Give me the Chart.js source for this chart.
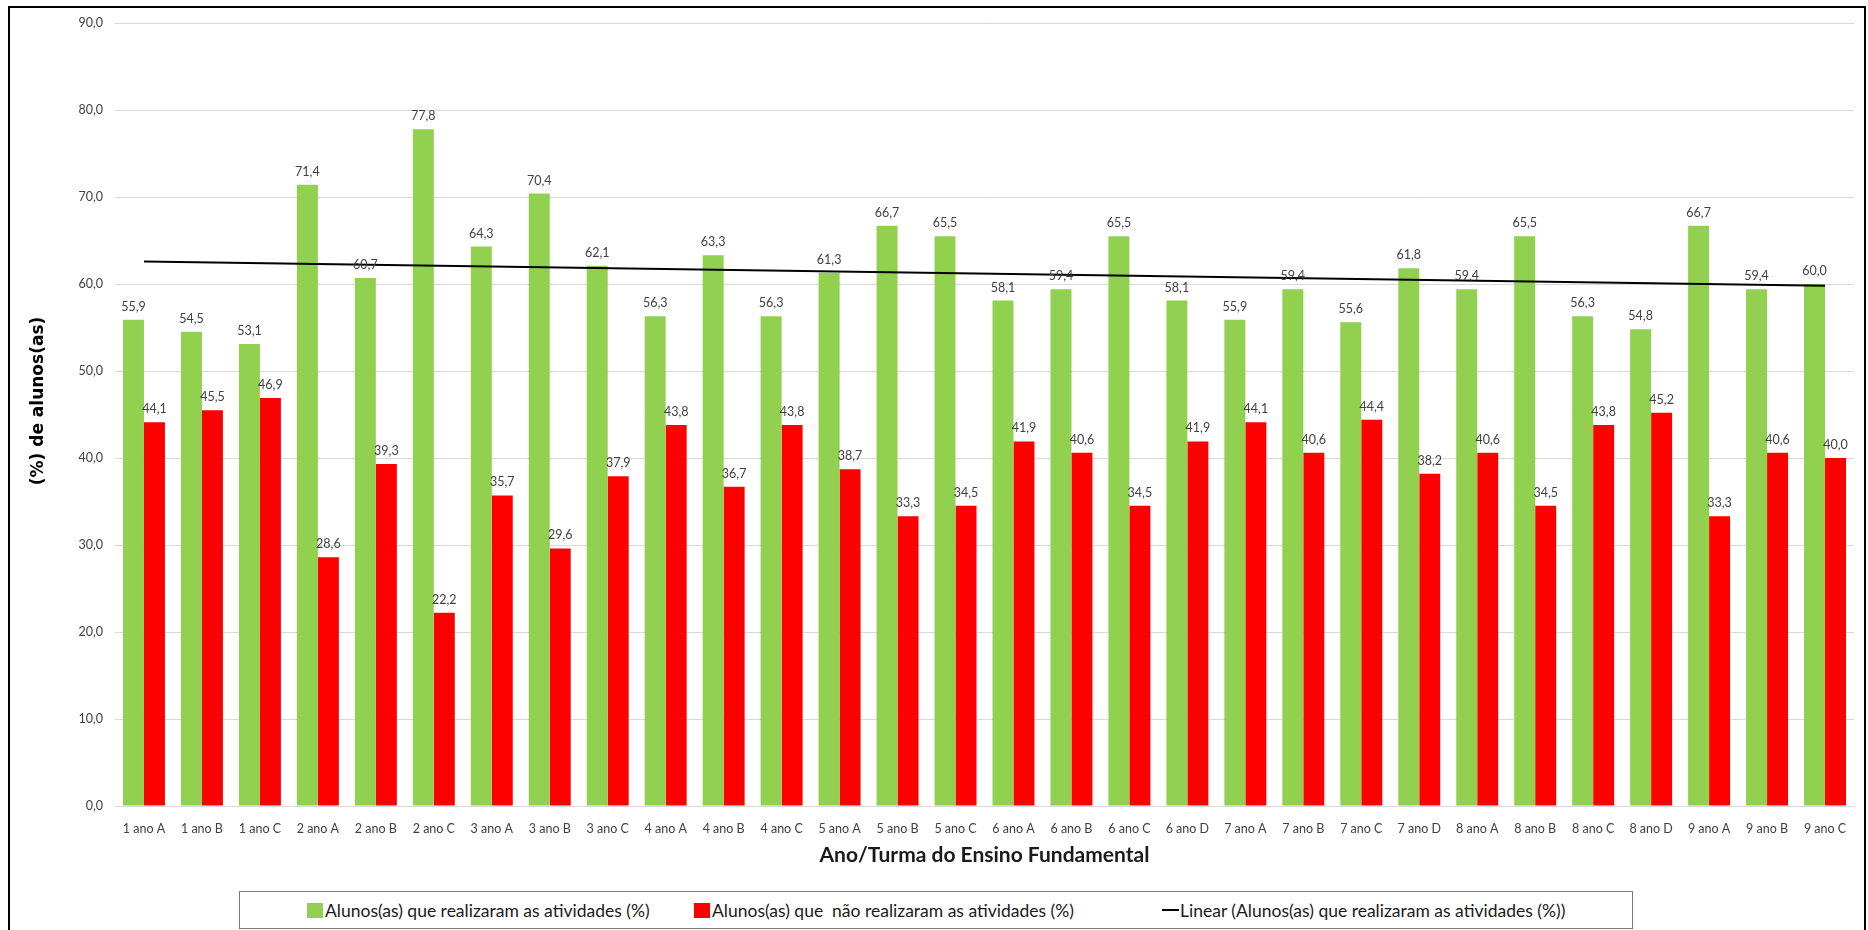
<!DOCTYPE html>
<html lang="pt-BR">
<head>
<meta charset="utf-8">
<title>Alunos(as) que realizaram as atividades por turma</title>
<script src="https://cdn.jsdelivr.net/npm/chart.js@4.4.1/dist/chart.umd.min.js"></script>
<style>
  html, body { margin: 0; padding: 0; background: #ffffff; }
  #wrap { position: relative; width: 1868px; height: 930px; overflow: hidden; }
  #chart { position: absolute; left: 0; top: 0; }
  #frame {
    position: absolute; left: 8px; top: 6px; width: 1854px; height: 940px;
    border: 2px solid #000; pointer-events: none;
  }
  #legend {
    position: absolute; left: 239px; top: 891px; width: 1392px; height: 36px;
    border: 1.5px solid #7a7a7a; background: #fff;
    font-family: Lato, "Open Sans", sans-serif;
    font-size: 17.5px; color: #1a1a1a;
  }
  .item { position: absolute; top: 0; height: 36px; display: flex; align-items: center; white-space: pre; }
  .swatch { display: inline-block; width: 16px; height: 15px; margin-right: 2px; }
  .dash { display: inline-block; width: 17px; height: 2px; background: #000; margin-right: 1px; }
</style>
</head>
<body>
<div id="wrap">
  <canvas id="chart" width="1868" height="930"></canvas>
  <div id="legend"></div>
  <div id="frame"></div>
</div>
<script>
// Classes (ano/turma) of the Ensino Fundamental
const categories = [
  '1 ano A', '1 ano B', '1 ano C',
  '2 ano A', '2 ano B', '2 ano C',
  '3 ano A', '3 ano B', '3 ano C',
  '4 ano A', '4 ano B', '4 ano C',
  '5 ano A', '5 ano B', '5 ano C',
  '6 ano A', '6 ano B', '6 ano C', '6 ano D',
  '7 ano A', '7 ano B', '7 ano C', '7 ano D',
  '8 ano A', '8 ano B', '8 ano C', '8 ano D',
  '9 ano A', '9 ano B', '9 ano C'
];

// Students who did the activities (%)
const realizaram = [
  55.9, 54.5, 53.1,
  71.4, 60.7, 77.8,
  64.3, 70.4, 62.1,
  56.3, 63.3, 56.3,
  61.3, 66.7, 65.5,
  58.1, 59.4, 65.5, 58.1,
  55.9, 59.4, 55.6, 61.8,
  59.4, 65.5, 56.3, 54.8,
  66.7, 59.4, 60.0
];

// Students who did not do the activities (%)
const naoRealizaram = [
  44.1, 45.5, 46.9,
  28.6, 39.3, 22.2,
  35.7, 29.6, 37.9,
  43.8, 36.7, 43.8,
  38.7, 33.3, 34.5,
  41.9, 40.6, 34.5, 41.9,
  44.1, 40.6, 44.4, 38.2,
  40.6, 34.5, 43.8, 45.2,
  33.3, 40.6, 40.0
];

// Linear trend of the first series: value at the first and last class
const tendencia = [62.6, 59.8];

// Value axis ticks
const yTicks = [0, 10, 20, 30, 40, 50, 60, 70, 80, 90];

const labelRealizaram = 'Alunos(as) que realizaram as atividades (%)';
const labelNao = 'Alunos(as) que  não realizaram as atividades (%)';
const labelTendencia = 'Linear (Alunos(as) que realizaram as atividades (%))';

const GREEN = '#92d050';
const RED = '#ff0000';
const FONT = 'Lato, "Open Sans", sans-serif';

const fmt = v => v.toFixed(1).replace('.', ',');

// Value labels above each bar
const barValueLabels = {
  id: 'barValueLabels',
  afterDatasetsDraw(chart) {
    const ctx = chart.ctx;
    ctx.save();
    ctx.font = '12.5px ' + FONT;
    ctx.fillStyle = '#404040';
    ctx.textAlign = 'center';
    ctx.textBaseline = 'alphabetic';
    chart.data.datasets.forEach((ds, di) => {
      if (ds.type !== 'bar') return;
      const meta = chart.getDatasetMeta(di);
      meta.data.forEach((el, i) => {
        ctx.fillText(fmt(ds.data[i]), el.x, el.y - 9);
      });
    });
    ctx.restore();
  }
};

// Rotated title of the value axis
const yAxisTitle = {
  id: 'yAxisTitle',
  afterDraw(chart) {
    const ctx = chart.ctx;
    ctx.save();
    ctx.translate(39, 401);
    ctx.rotate(-Math.PI / 2);
    ctx.font = 'bold 17px "DejaVu Sans", Verdana, sans-serif';
    ctx.fillStyle = '#000';
    ctx.textAlign = 'center';
    ctx.textBaseline = 'middle';
    ctx.fillText('(%) de alunos(as)', 0, 0);
    ctx.restore();
  }
};

const chart = new Chart(document.getElementById('chart'), {
  data: {
    labels: categories,
    datasets: [
      {
        type: 'line',
        label: labelTendencia,
        data: [
          { x: categories[0], y: tendencia[0] },
          { x: categories[categories.length - 1], y: tendencia[1] }
        ],
        borderColor: '#000',
        borderWidth: 2,
        pointRadius: 0,
        fill: false,
        order: 0
      },
      {
        type: 'bar',
        label: labelRealizaram,
        data: realizaram,
        backgroundColor: GREEN,
        borderWidth: 0,
        order: 1
      },
      {
        type: 'bar',
        label: labelNao,
        data: naoRealizaram,
        backgroundColor: RED,
        borderWidth: 0,
        order: 1
      }
    ]
  },
  options: {
    responsive: false,
    animation: false,
    layout: { padding: { left: 0, right: 14, top: 23, bottom: 0 } },
    datasets: {
      bar: { categoryPercentage: 0.724, barPercentage: 1.0 }
    },
    plugins: {
      legend: { display: false },
      tooltip: { enabled: false },
      title: { display: false }
    },
    scales: {
      x: {
        grid: { display: false, drawTicks: false },
        border: { display: false },
        ticks: {
          autoSkip: false,
          maxRotation: 0,
          padding: 15,
          color: '#404040',
          font: { family: FONT, size: 12.5 }
        },
        title: {
          display: true,
          text: 'Ano/Turma do Ensino Fundamental',
          color: '#1a1a1a',
          font: { family: FONT, size: 21, weight: 'bold', lineHeight: 1.2 },
          padding: { top: 0, bottom: 62 }
        },
        afterFit(scale) { scale.height = 124; }
      },
      y: {
        min: yTicks[0],
        max: yTicks[yTicks.length - 1],
        afterBuildTicks(scale) { scale.ticks = yTicks.map(v => ({ value: v })); },
        grid: { color: '#d9d9d9', lineWidth: 1, drawTicks: false },
        border: { display: false },
        ticks: {
          padding: 12,
          color: '#404040',
          font: { family: FONT, size: 12.5 },
          callback: v => fmt(v)
        },
        afterFit(scale) { scale.width = 115; }
      }
    }
  },
  plugins: [barValueLabels, yAxisTitle]
});

// Legend box below the chart
const legendItems = [
  { kind: 'box', color: GREEN, text: labelRealizaram, left: 67 },
  { kind: 'box', color: RED, text: labelNao, left: 454 },
  { kind: 'line', color: '#000', text: labelTendencia, left: 922 }
];
const legendEl = document.getElementById('legend');
legendItems.forEach(it => {
  const item = document.createElement('div');
  item.className = 'item';
  item.style.left = it.left + 'px';
  const mark = document.createElement('span');
  if (it.kind === 'box') {
    mark.className = 'swatch';
    mark.style.background = it.color;
  } else {
    mark.className = 'dash';
    mark.style.background = it.color;
  }
  const txt = document.createElement('span');
  txt.textContent = it.text;
  item.appendChild(mark);
  item.appendChild(txt);
  legendEl.appendChild(item);
});
</script>
</body>
</html>
